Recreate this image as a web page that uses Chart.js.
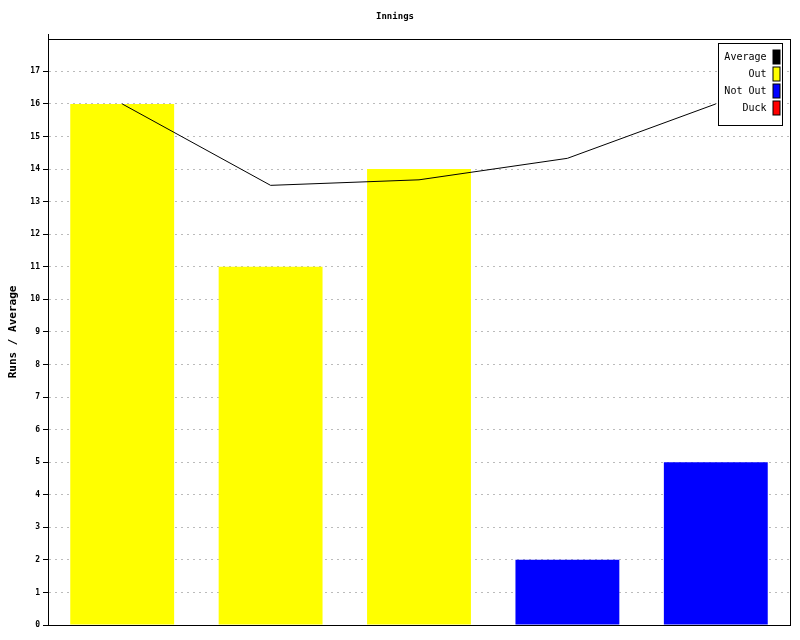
<!DOCTYPE html>
<html>
<head>
<meta charset="utf-8">
<script src="https://cdn.jsdelivr.net/npm/chart.js@4"></script>
<style>
  html, body { margin: 0; padding: 0; background: #fff; }
  #wrap { width: 800px; height: 640px; }
</style>
</head>
<body>
<div id="wrap"><canvas id="innings-chart" width="800" height="640"></canvas></div>
<script>
(function () {
    'use strict';

    // Innings data
    var innings = ['1', '2', '3', '4', '5'];
    var outRuns = [16, 11, 14, null, null];
    var notOutRuns = [null, null, null, 2, 5];
    var duckRuns = [null, null, null, null, null];
    var average = [16, 13.5, 13.67, 14.33, 16];

    var MONO = '"DejaVu Sans Mono", "Liberation Mono", monospace';

    // cadre autour de la zone de tracé + légende maison
    var framePlugin = {
        id: 'frameAndLegend',
        afterDraw: function (chart) {
            var ctx = chart.ctx;
            var area = chart.chartArea;
            ctx.save();
            ctx.strokeStyle = '#000';
            ctx.lineWidth = 1;
            ctx.strokeRect(Math.round(area.left) + 0.5, Math.round(area.top) + 0.5,
                Math.round(area.right - area.left), Math.round(area.bottom - area.top));
            // petit dépassement de l'axe vertical au-dessus du cadre
            ctx.beginPath();
            ctx.moveTo(Math.round(area.left) + 0.5, Math.round(area.top) - 5);
            ctx.lineTo(Math.round(area.left) + 0.5, Math.round(area.top));
            ctx.stroke();

            var items = chart.data.datasets.slice().sort(function (a, b) {
                return a.legendOrder - b.legendOrder;
            });
            var boxRight = Math.round(area.right) - 7.5;
            var boxLeft = boxRight - 64;
            var boxTop = Math.round(area.top) + 4.5;
            var rowH = 17;
            var boxBottom = boxTop + items.length * rowH + 14;
            ctx.fillStyle = '#fff';
            ctx.fillRect(boxLeft, boxTop, boxRight - boxLeft, boxBottom - boxTop);
            ctx.strokeRect(boxLeft, boxTop, boxRight - boxLeft, boxBottom - boxTop);

            ctx.font = '10px ' + MONO;
            ctx.textAlign = 'right';
            ctx.textBaseline = 'middle';
            items.forEach(function (ds, i) {
                var cy = boxTop + 13.5 + i * rowH;
                ctx.fillStyle = '#000';
                ctx.fillText(ds.label, boxRight - 16, cy);
                ctx.fillStyle = ds.swatch;
                ctx.fillRect(boxRight - 9.5, cy - 7, 7, 14);
                ctx.strokeStyle = '#000';
                ctx.strokeRect(boxRight - 9.5, cy - 7, 7, 14);
            });
            ctx.restore();
        }
    };

    new Chart(document.getElementById('innings-chart'), {
        data: {
            labels: innings,
            datasets: [
                {
                    type: 'line',
                    label: 'Average',
                    data: average,
                    borderColor: '#000',
                    backgroundColor: '#000',
                    swatch: '#000',
                    borderWidth: 1,
                    pointRadius: 0,
                    tension: 0,
                    fill: false,
                    order: 0,
                    legendOrder: 0,
                },
                {
                    type: 'bar',
                    label: 'Out',
                    data: outRuns,
                    backgroundColor: '#ffff00',
                    swatch: '#ffff00',
                    grouped: false,
                    barPercentage: 0.7,
                    categoryPercentage: 1,
                    order: 1,
                    legendOrder: 1,
                },
                {
                    type: 'bar',
                    label: 'Not Out',
                    data: notOutRuns,
                    backgroundColor: '#0000ff',
                    swatch: '#0000ff',
                    grouped: false,
                    barPercentage: 0.7,
                    categoryPercentage: 1,
                    order: 2,
                    legendOrder: 2,
                },
                {
                    type: 'bar',
                    label: 'Duck',
                    data: duckRuns,
                    backgroundColor: '#ff0000',
                    swatch: '#ff0000',
                    grouped: false,
                    barPercentage: 0.7,
                    categoryPercentage: 1,
                    order: 3,
                    legendOrder: 3,
                },
            ],
        },
        options: {
            responsive: false,
            animation: false,
            layout: {
                padding: { left: 0, right: 10, top: 0, bottom: 15 },
            },
            plugins: {
                legend: { display: false },
                tooltip: { enabled: false },
                title: {
                    display: true,
                    text: 'Innings',
                    color: '#000',
                    font: { family: MONO, size: 9, weight: 'bold' },
                    padding: { top: 11, bottom: 17 },
                },
            },
            scales: {
                x: {
                    type: 'category',
                    ticks: { display: false },
                    grid: { display: false, drawTicks: false },
                    border: { display: true, color: '#000', width: 1 },
                },
                y: {
                    min: 0,
                    max: 18,
                    afterFit: function (scale) {
                        scale.width = 48;
                    },
                    ticks: {
                        stepSize: 1,
                        color: '#000',
                        padding: 3,
                        font: { family: MONO, size: 8, weight: 'bold' },
                        callback: function (value) {
                            return value >= 18 ? '' : value;
                        },
                    },
                    grid: {
                        color: function (ctx) {
                            return ctx.tick && ctx.tick.value >= 18 ? 'rgba(0,0,0,0)' : '#bbbbbb';
                        },
                        tickColor: function (ctx) {
                            return ctx.tick && ctx.tick.value >= 18 ? 'rgba(0,0,0,0)' : '#000';
                        },
                        tickLength: 5,
                        tickBorderDash: [],
                    },
                    border: { display: true, color: '#000', width: 1, dash: [2, 4] },
                    title: {
                        display: true,
                        text: 'Runs / Average',
                        color: '#000',
                        padding: { top: 7, bottom: 0 },
                        font: { family: MONO, size: 11, weight: 'bold' },
                    },
                },
            },
        },
        plugins: [framePlugin],
    });
})();
</script>
</body>
</html>
